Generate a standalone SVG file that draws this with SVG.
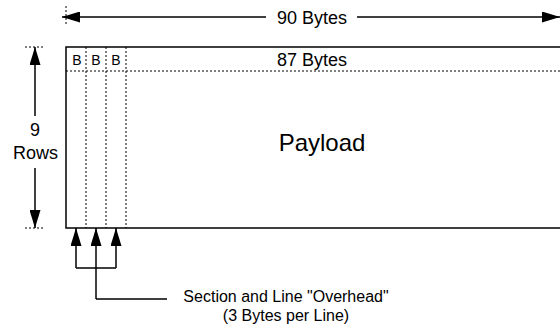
<svg xmlns="http://www.w3.org/2000/svg" width="560" height="329" viewBox="0 0 560 329">
<style>
text{font-family:"Liberation Sans",Arial,sans-serif;fill:#000;text-anchor:middle}
.solid{stroke:#000;stroke-width:1.5;fill:none}
.dot{stroke:#000;stroke-width:1;stroke-dasharray:2,2;fill:none}
.arr{stroke:#000;stroke-width:1.5;fill:none;marker-end:url(#ah)}
</style>
<defs>
<marker id="ah" markerUnits="userSpaceOnUse" markerWidth="18" markerHeight="11" refX="18" refY="5.5" orient="auto">
<path d="M0,0 L18,5.5 L0,11 z" fill="#000"/>
</marker>
</defs>
<rect width="560" height="329" fill="#fff"/>
<g id="frame">
<path class="solid" d="M562,47 H66 V228 H562"/>
<line class="dot" x1="66" y1="71" x2="560" y2="71"/>
<line class="dot" x1="86" y1="47" x2="86" y2="228"/>
<line class="dot" x1="106" y1="47" x2="106" y2="228"/>
<line class="dot" x1="126" y1="47" x2="126" y2="228"/>
<text x="77" y="65" font-size="14">B</text>
<text x="96" y="65" font-size="14">B</text>
<text x="116" y="65" font-size="14">B</text>
<text x="312" y="66" font-size="18">87 Bytes</text>
<text x="322" y="151" font-size="24">Payload</text>
</g>
<g id="width-dim">
<line class="dot" x1="66" y1="6" x2="66" y2="25"/>
<line class="arr" x1="266" y1="17" x2="62" y2="17"/>
<line class="arr" x1="357" y1="17" x2="560" y2="17"/>
<text x="312" y="23.5" font-size="18">90 Bytes</text>
</g>
<g id="height-dim">
<line class="dot" x1="25" y1="47" x2="44" y2="47"/>
<line class="dot" x1="25" y1="228" x2="44" y2="228"/>
<line class="arr" x1="35" y1="116" x2="35" y2="47"/>
<line class="arr" x1="35" y1="168" x2="35" y2="228"/>
<text x="35" y="135.5" font-size="18">9</text>
<text x="35.5" y="158.5" font-size="18">Rows</text>
</g>
<g id="connectors">
<line class="arr" x1="76" y1="268" x2="76" y2="228"/>
<line class="arr" x1="96" y1="299" x2="96" y2="228"/>
<line class="arr" x1="116" y1="268" x2="116" y2="228"/>
<path class="solid" d="M76,268 H116 M96,299 H167"/>
</g>
<g id="overhead-label">
<text x="286" y="302" font-size="16">Section and Line "Overhead"</text>
<text x="286" y="321" font-size="16">(3 Bytes per Line)</text>
</g>
</svg>
